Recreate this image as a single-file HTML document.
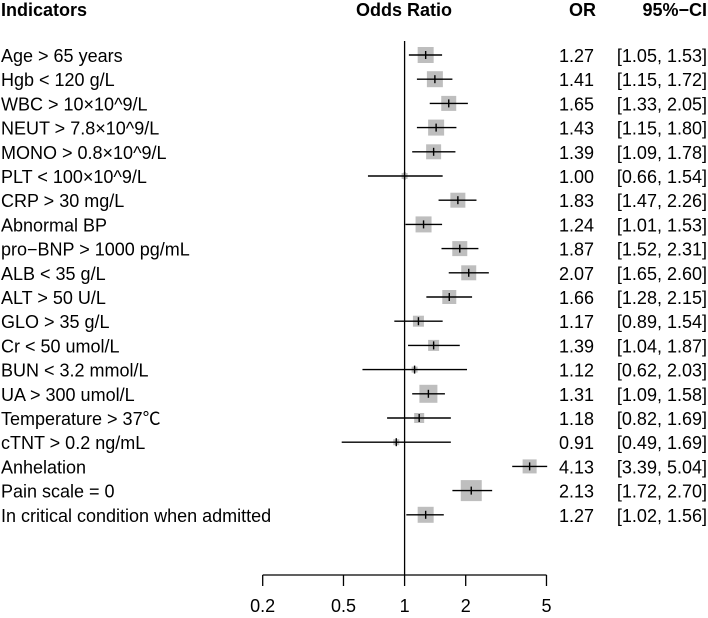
<!DOCTYPE html>
<html><head><meta charset="utf-8"><style>
body{margin:0;background:#fff;}
svg{display:block;font-family:"Liberation Sans","Noto Sans CJK SC",sans-serif;}
</style></head><body>
<svg id="chart" width="708" height="618" viewBox="0 0 708 618">
<g id="g"></g>
</svg>
<script>
const labels=["Age > 65 years","Hgb < 120 g/L","WBC > 10×10^9/L","NEUT > 7.8×10^9/L","MONO > 0.8×10^9/L","PLT < 100×10^9/L","CRP > 30 mg/L","Abnormal BP","pro−BNP > 1000 pg/mL","ALB < 35 g/L","ALT > 50 U/L","GLO > 35 g/L","Cr < 50 umol/L","BUN < 3.2 mmol/L","UA > 300 umol/L","Temperature > 37℃","cTNT > 0.2 ng/mL","Anhelation","Pain scale = 0","In critical condition when admitted"];
const orVals=[1.27,1.41,1.65,1.43,1.39,1.00,1.83,1.24,1.87,2.07,1.66,1.17,1.39,1.12,1.31,1.18,0.91,4.13,2.13,1.27];
const lowVals=[1.05,1.15,1.33,1.15,1.09,0.66,1.47,1.01,1.52,1.65,1.28,0.89,1.04,0.62,1.09,0.82,0.49,3.39,1.72,1.02];
const highVals=[1.53,1.72,2.05,1.80,1.78,1.54,2.26,1.53,2.31,2.60,2.15,1.54,1.87,2.03,1.58,1.69,1.69,5.04,2.70,1.56];
const weights=[16,16,15,16,15,6,15,16,15,15,14,11,11,6,18,10,6,14,21,16];
const ticks=[0.2,0.5,1,2,5];
const NS="http://www.w3.org/2000/svg";
const g=document.getElementById('g');
const x=v=>262.7+203*Math.log10(v/0.2);
const y=i=>55+i*24.2;
function el(t,a,txt){const e=document.createElementNS(NS,t);for(const k in a)e.setAttribute(k,a[k]);if(txt!==undefined)e.textContent=txt;g.appendChild(e);return e;}
let h;
h=el('text',{x:1,y:16,'font-size':18,'font-weight':'bold'},'Indicators');


h=el('text',{x:404,y:16,'font-size':18,'font-weight':'bold','text-anchor':'middle'},'Odds Ratio');


h=el('text',{x:596,y:16,'font-size':18,'font-weight':'bold','text-anchor':'end'},'OR');


h=el('text',{x:707,y:16,'font-size':18,'font-weight':'bold','text-anchor':'end'},'95%−CI');


h=el('line',{x1:x(1),x2:x(1),y1:41,y2:575,stroke:'#000','stroke-width':1.3});


labels.forEach((l,i)=>{
 const yy=y(i);
 let t=el('text',{x:1,y:yy+7,'font-size':18},l);
 
 
 const w=weights[i];
 let r=el('rect',{x:x(orVals[i])-w/2,y:yy-w/2,width:w,height:w,fill:'#bebebe'});
 
 
 let c=el('line',{x1:x(lowVals[i]),x2:x(highVals[i]),y1:yy,y2:yy,stroke:'#000','stroke-width':1.4});
 
 
 let p=el('line',{x1:x(orVals[i]),x2:x(orVals[i]),y1:yy-4,y2:yy+4,stroke:'#000','stroke-width':1.4});
 
 
 let o=el('text',{x:594,y:yy+7,'font-size':18,'text-anchor':'end'},orVals[i].toFixed(2));
 
 
 let ci=el('text',{x:707,y:yy+7,'font-size':18,'text-anchor':'end'},'['+lowVals[i].toFixed(2)+', '+highVals[i].toFixed(2)+']');
 
 
});
h=el('line',{x1:x(0.2),x2:x(5),y1:575,y2:575,stroke:'#000','stroke-width':1.3});


ticks.forEach(v=>{
 let t=el('line',{x1:x(v),x2:x(v),y1:575,y2:586,stroke:'#000','stroke-width':1.3});
 
 
 let l=el('text',{x:x(v),y:612,'font-size':18,'text-anchor':'middle'},String(v));
 
 
});
</script>
</body></html>
